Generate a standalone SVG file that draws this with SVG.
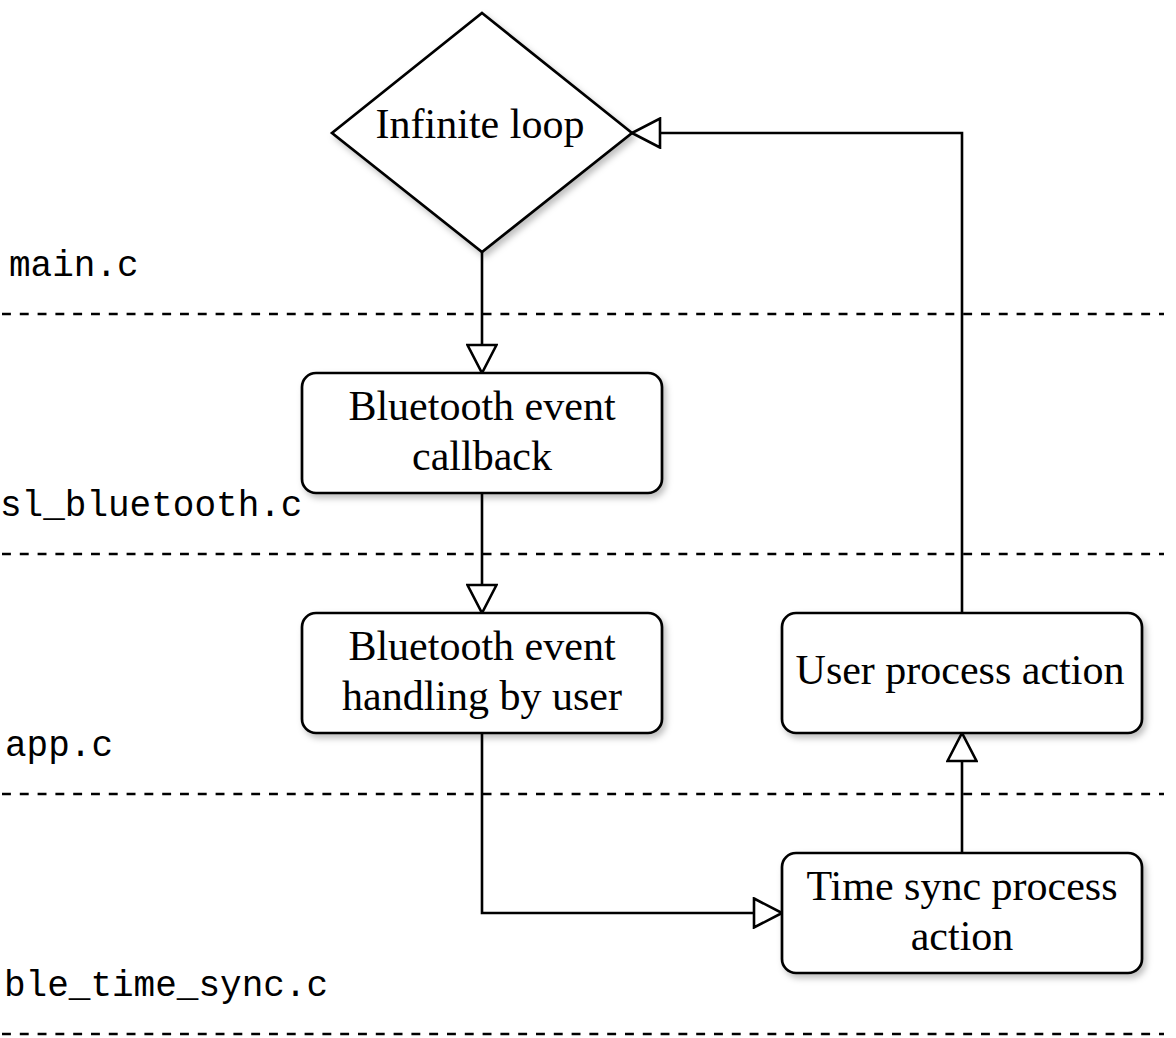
<svg xmlns="http://www.w3.org/2000/svg" width="1176" height="1038" viewBox="0 0 1176 1038">
<style>
.node{fill:#fff;stroke:#000;stroke-width:2.7;filter:url(#sh)}
.t{font-family:"Liberation Serif","Times New Roman",serif;font-size:42px;fill:#000;text-anchor:middle}
.lbl{font-family:"Liberation Mono","Courier New",monospace;font-size:36px;fill:#000}
.lane{stroke:#000;stroke-width:2.7;stroke-dasharray:8.9 8.9;fill:none}
.edge{stroke:#000;stroke-width:2.6;fill:none;marker-end:url(#tri)}
</style>
<defs>
<filter id="sh" x="-10%" y="-10%" width="130%" height="130%">
<feDropShadow dx="3" dy="4" stdDeviation="3" flood-color="#000" flood-opacity="0.25"/>
</filter>
<marker id="tri" markerUnits="userSpaceOnUse" viewBox="0 0 32 32" markerWidth="32" markerHeight="32" refX="30" refY="16" orient="auto">
<path d="M2,1.5 L30,16 L2,30.5 Z" fill="#fff" stroke="#000" stroke-width="2.6"/>
</marker>
</defs>
<rect width="1176" height="1038" fill="#fff"/>
<g id="lanes">
<line class="lane" x1="2" y1="314" x2="1164" y2="314"/>
<line class="lane" x1="2" y1="554" x2="1164" y2="554"/>
<line class="lane" x1="2" y1="794" x2="1164" y2="794"/>
<line class="lane" x1="2" y1="1034" x2="1164" y2="1034"/>
<text class="lbl" x="9" y="276">main.c</text>
<text class="lbl" x="0" y="516">sl_bluetooth.c</text>
<text class="lbl" x="5" y="756">app.c</text>
<text class="lbl" x="4" y="996">ble_time_sync.c</text>
</g>
<g id="connectors">
<path class="edge" d="M482,252 L482,373"/>
<path class="edge" d="M482,493 L482,613"/>
<path class="edge" d="M482,733 L482,913 L782,913"/>
<path class="edge" d="M962,853 L962,733"/>
<path class="edge" d="M962,613 L962,133 L632,133"/>
</g>
<g id="infinite-loop">
<polygon class="node" points="482,13 632,133 482,252 332,133"/>
<text class="t" x="480" y="138">Infinite loop</text>
</g>
<g id="bt-callback">
<rect class="node" x="302" y="373" width="360" height="120" rx="14"/>
<text class="t" x="482" y="420">Bluetooth event</text>
<text class="t" x="482" y="470">callback</text>
</g>
<g id="bt-handling">
<rect class="node" x="302" y="613" width="360" height="120" rx="14"/>
<text class="t" x="482" y="660">Bluetooth event</text>
<text class="t" x="482" y="710">handling by user</text>
</g>
<g id="user-process">
<rect class="node" x="782" y="613" width="360" height="120" rx="14"/>
<text class="t" x="960" y="684">User process action</text>
</g>
<g id="time-sync">
<rect class="node" x="782" y="853" width="360" height="120" rx="14"/>
<text class="t" x="962" y="900">Time sync process</text>
<text class="t" x="962" y="950">action</text>
</g>
</svg>
